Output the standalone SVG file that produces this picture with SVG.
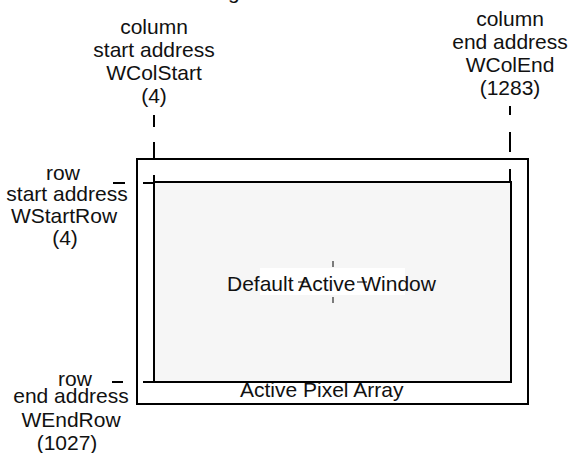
<svg xmlns="http://www.w3.org/2000/svg" width="571" height="453" viewBox="0 0 571 453">
<style>
text{font-family:"Liberation Sans",Arial,sans-serif;font-size:21px;fill:#111;}
.c{text-anchor:middle;}
.frame{fill:none;stroke:#000;stroke-width:2;}
.win{fill:#f6f6f6;stroke:#000;stroke-width:2;}
.d{stroke:#000;stroke-width:2;fill:none;}
.x{stroke:#000;stroke-width:1;fill:none;}
</style>
<rect width="571" height="453" fill="#fff"/>
<text x="228" y="-1">g</text>
<g id="pixel-array">
<rect class="frame" x="137" y="159" width="391" height="245"/>
<text x="240" y="397">Active Pixel Array</text>
</g>
<g id="active-window">
<rect class="win" x="154" y="182" width="357" height="200"/>
<rect x="260" y="268" width="145" height="27" fill="#fff"/>
<text x="227" y="291">Default Active Window</text>
</g>
<g id="col-start-label">
<text class="c" x="154" y="34">column</text>
<text class="c" x="154" y="57">start address</text>
<text class="c" x="154" y="80">WColStart</text>
<text class="c" x="154" y="103">(4)</text>
</g>
<g id="col-end-label">
<text class="c" x="510" y="26">column</text>
<text class="c" x="510" y="49">end address</text>
<text class="c" x="510" y="72">WColEnd</text>
<text class="c" x="510" y="95">(1283)</text>
</g>
<g id="row-start-label">
<text class="c" x="63" y="180">row</text>
<text class="c" x="67" y="201">start address</text>
<text class="c" x="64" y="223">WStartRow</text>
<text class="c" x="65" y="245">(4)</text>
</g>
<g id="row-end-label">
<text class="c" x="75" y="386">row</text>
<text class="c" x="71" y="403">end address</text>
<text class="c" x="71" y="427">WEndRow</text>
<text class="c" x="67" y="450">(1027)</text>
</g>
<g id="connectors">
<path class="d" d="M154 115V127M154 142V159M154 175V182"/>
<path class="d" d="M510 106V115M510 132V152M510 169V182"/>
<path class="d" d="M113 183H125M143 183H154"/>
<path class="d" d="M112 382H123M143 382H154"/>
<path class="x" d="M333 261V267M333 297V303M298 282H307M357 282H367"/>
</g>
</svg>
